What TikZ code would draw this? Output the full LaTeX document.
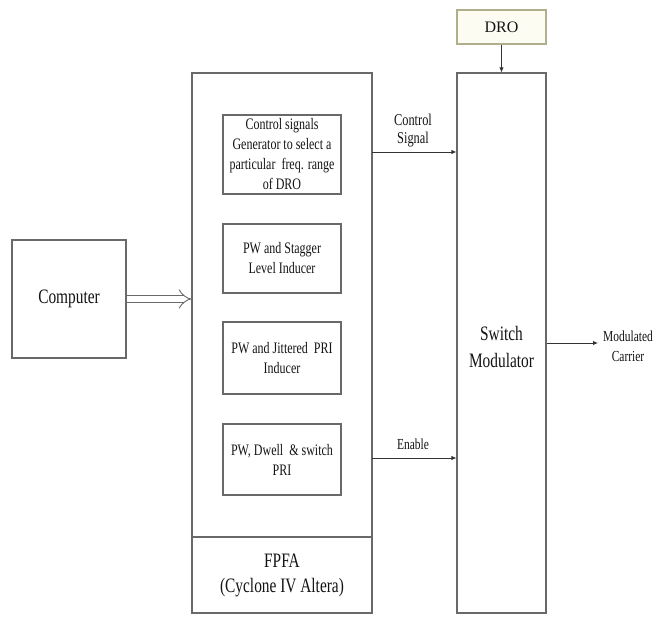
\documentclass[tikz,border=0pt]{standalone}
\usepackage{fontspec}
\setmainfont[FakeStretch=0.75]{Liberation Serif}
\newfontfamily\drofont{Liberation Serif}
\usetikzlibrary{arrows.meta}
\definecolor{linegray}{RGB}{105,105,105}
\definecolor{droline}{RGB}{175,175,140}
\definecolor{drofill}{RGB}{252,252,242}
\definecolor{txt}{RGB}{20,20,20}
\tikzset{
  box/.style={draw=linegray, line width=1.1pt, rectangle, inner sep=0pt, align=center, text=txt},
  inbox/.style={box, minimum width=118pt, font=\fontsize{16}{20}\selectfont},
  sig/.style={draw=black!80, line width=0.9pt, -{Latex[length=5pt,width=4.5pt]}},
  lbl/.style={align=center, text=txt, inner sep=0pt},
}
\begin{document}
\begin{tikzpicture}[x=1pt,y=-1pt]
\useasboundingbox[fill=white] (0,0) rectangle (656,616);
% FPGA
\node[box, minimum width=180pt, minimum height=464pt] (fpga) at (282,305) {};
\node[box, minimum width=180pt, minimum height=76pt, font=\fontsize{20.5}{25}\selectfont] (fpfa) at (282,575) {FPFA\\(Cyclone IV Altera)};
% inner blocks
\node[inbox, minimum height=79pt] (b1) at (282,154.5) {Control signals\\Generator to select a\\particular\ \ freq. range\\of DRO};
\node[inbox, minimum height=69pt] (b2) at (282,258.5) {PW and Stagger\\Level Inducer};
\node[inbox, minimum height=72pt] (b3) at (282,358) {PW and Jittered\ \ PRI\\Inducer};
\node[inbox, minimum height=71pt] (b4) at (282,459.5) {PW, Dwell\ \ \& switch\\PRI};
% computer
\node[box, minimum width=114pt, minimum height=118pt, font=\fontsize{20.5}{24}\selectfont] (comp) at (69,299) {Computer};
% switch modulator
\node[box, minimum width=89pt, minimum height=540pt] (sw) at (501.5,343) {};
\node[lbl, font=\fontsize{20.5}{27}\selectfont] (swt) at (501.5,347) {Switch\\Modulator};
% DRO
\node[box, draw=droline, fill=drofill, minimum width=89pt, minimum height=34pt, font=\drofont\fontsize{16}{18}\selectfont] (dro) at (501.5,27) {DRO};
% connectors
\draw[sig] (dro.south) -- (sw.north);
\coordinate (cs) at (372,152);
\draw[sig] (cs) -- (cs -| sw.west);
\coordinate (en) at (372,458);
\draw[sig] (en) -- (en -| sw.west);
\draw[draw=linegray, line width=0.9pt, double=white, double distance=6pt, -{Implies}] (comp.east) -- (comp.east -| fpga.west);
\coordinate (outend) at (598,343);
\draw[sig] (sw.east) -- (outend);
% labels
\node[lbl, font=\fontsize{16.5}{18}\selectfont] (lcs) at (413,131) {Control\\Signal};
\node[lbl, font=\fontsize{15.3}{18}\selectfont] (len) at (413,444) {Enable};
\node[lbl, font=\fontsize{15.3}{20}\selectfont] (lout) at (628,346) {Modulated\\Carrier};
\end{tikzpicture}
\end{document}
